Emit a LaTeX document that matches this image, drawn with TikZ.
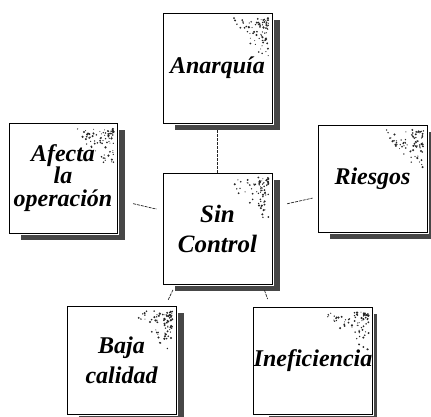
\documentclass[tikz,border=0pt]{standalone}
\usepackage{fontspec}
\setmainfont{Liberation Serif}
\usetikzlibrary{calc}
\tikzset{
  boxnode/.style={rectangle, draw=black, line width=0.9pt, fill=white,
    preaction={draw=white, line width=3.5pt},
    inner sep=0pt, align=center,
    font=\bfseries\itshape\fontsize{24}{30}\selectfont},
  shadowfill/.style={fill=black!72},
  conn/.style={draw=black!85, line width=0.7pt, dash pattern=on 3pt off 1pt},
  specdot/.style={fill=black!85}
}
\begin{document}
\begin{tikzpicture}[x=1pt,y=-1pt]
\useasboundingbox (0,0) rectangle (431,416);
% shadows (drawn first)
\fill[shadowfill] (175,20) rectangle (280,130);
\fill[shadowfill] (21,130) rectangle (125,240);
\fill[shadowfill] (175,180) rectangle (280,291);
\fill[shadowfill] (330,132) rectangle (435,239);
\fill[shadowfill] (79,313) rectangle (184,421);
\fill[shadowfill] (269,314) rectangle (377,421);
% boxes
\node[boxnode, minimum width=109pt, minimum height=110pt] (anar) at (217.5,68) {Anarquía};
\node[boxnode, minimum width=108pt, minimum height=110pt,
  font=\bfseries\itshape\fontsize{24}{22.5}\selectfont] (afecta) at (63,178) {Afecta\\la\\operación};
\node[boxnode, minimum width=109pt, minimum height=111pt,
  font=\bfseries\itshape\fontsize{25}{30}\selectfont] (sin) at (217.5,228.5) {Sin\\Control};
\node[boxnode, minimum width=109pt, minimum height=107pt] (ries) at (372.5,178.5) {Riesgos};
\node[boxnode, minimum width=109pt, minimum height=108pt] (baja) at (121.5,360) {Baja\\calidad};
\node[boxnode, minimum width=112pt, minimum height=107pt] (inef) at (313,360.5) {Ineficiencia};
% speckles in the upper right corners
\pgfmathsetseed{11}
\foreach \b in {anar,afecta,sin,ries,baja,inef}{
  \foreach \i in {1,...,80}{
    \pgfmathsetmacro\ua{rnd}
    \pgfmathsetmacro\ub{rnd}
    \pgfmathsetmacro\dx{-4-42*\ua*\ub}
    \pgfmathsetmacro\dy{4+42*\ua*(1-\ub)+6*rnd}
    \pgfmathsetmacro\rr{0.5+0.7*rnd}
    \fill[specdot] ($(\b.north east)+(\dx,\dy)$) circle (\rr);
  }
}
% connectors
\draw[conn, shorten <=7pt] (anar.south) -- (sin.north);
\draw[conn, shorten <=16pt, shorten >=6pt] ($(afecta.east)+(0,22)$) -- ($(sin.west)+(0,-18)$);
\draw[conn, shorten <=15pt, shorten >=5pt] ($(sin.east)+(0,-21.5)$) -- ($(ries.west)+(0,18.5)$);
\draw[conn, shorten <=6pt, shorten >=6pt] ($(sin.south west)+(13,0)$) -- ($(baja.north east)+(-11,0)$);
\draw[conn, shorten <=6pt, shorten >=8pt] ($(sin.south east)+(-10,0)$) -- ($(inef.north west)+(17,0)$);
\end{tikzpicture}
\end{document}
